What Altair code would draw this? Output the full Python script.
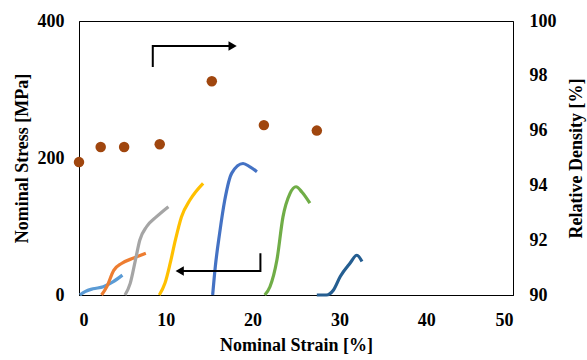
import altair as alt
import pandas as pd

# ---- data ----
series_names = ["s1", "s2", "s3", "s4", "s5", "s6", "s7"]
series_colors = ["#5B9BD5", "#ED7D31", "#A5A5A5", "#FFC000", "#4472C4", "#70AD47", "#255E91"]

s1_strain = [0.1, 0.7, 1.6, 2.8, 3.9, 5.0]
s1_stress = [0, 5, 9, 12, 19, 29]

s2_strain = [2.6, 3.2, 4.0, 4.9, 6.3, 7.7]
s2_stress = [0, 12, 36, 46, 54, 61]

s3_strain = [5.3, 5.9, 6.5, 7.0, 7.8, 8.9, 10.3]
s3_stress = [0, 17, 51, 80, 100, 114, 129]

s4_strain = [9.25, 9.9, 10.5, 11.1, 11.8, 12.8, 14.3]
s4_stress = [0, 17, 46, 80, 114, 139, 163]

s5_strain = [15.4, 15.7, 16.2, 16.8, 17.6, 18.9, 19.7, 20.5]
s5_stress = [0, 41, 90, 139, 178, 192, 187, 180]

s6_strain = [21.4, 22.0, 22.8, 23.5, 24.3, 25.0, 25.7, 26.6]
s6_stress = [0, 12, 51, 114, 148, 158, 150, 134]

s7_strain = [27.4, 28.5, 29.3, 30.1, 31.2, 32.0, 32.6]
s7_stress = [0, 0, 7, 27, 46, 58, 49]

density_strain = [0, 2.5, 5.2, 9.3, 15.3, 21.3, 27.4]
density_value = [94.85, 95.4, 95.4, 95.5, 97.8, 96.2, 96.0]

# annotation arrows (strain, stress)
arrow_names = ["right", "right", "right", "left", "left", "left"]
arrow_strain = [8.5, 8.5, 17.6, 20.9, 20.9, 11.8]
arrow_stress = [333, 363.5, 363.5, 61, 35, 35]
head_shapes = ["triangle-right", "triangle-left"]
head_strain = [17.7, 11.6]
head_stress = [363.5, 35]

strain_ticks = [0, 10, 20, 30, 40, 50]
stress_ticks = [0, 200, 400]
density_ticks = [90, 92, 94, 96, 98, 100]

# ---- tables ----
rows = []
all_strain = [s1_strain, s2_strain, s3_strain, s4_strain, s5_strain, s6_strain, s7_strain]
all_stress = [s1_stress, s2_stress, s3_stress, s4_stress, s5_stress, s6_stress, s7_stress]
for name, xs, ys in zip(series_names, all_strain, all_stress):
    for i, (x, y) in enumerate(zip(xs, ys)):
        rows.append({"series": name, "idx": i, "strain": x, "stress": y})
curves = pd.DataFrame(rows)
dens = pd.DataFrame({"strain": density_strain, "density": density_value})
arrows = pd.DataFrame({"arrow": arrow_names, "idx": list(range(len(arrow_names))),
                       "strain": arrow_strain, "stress": arrow_stress})
heads = pd.DataFrame({"shape": head_shapes, "strain": head_strain, "stress": head_stress})

FONT = "Liberation Serif"

x_enc = alt.X("strain:Q", scale=alt.Scale(domain=[0, 50], nice=False),
              axis=alt.Axis(values=strain_ticks, title="Nominal Strain [%]", ticks=False,
                            labelPadding=16, titlePadding=7, grid=False))
y_stress = alt.Y("stress:Q", scale=alt.Scale(domain=[0, 400], nice=False),
                 axis=alt.Axis(values=stress_ticks, title="Nominal Stress [MPa]", ticks=False,
                               labelPadding=15, titlePadding=6, grid=False))

lines = alt.Chart(curves).mark_line(strokeWidth=3.2, interpolate="monotone").encode(
    x=x_enc, y=y_stress,
    color=alt.Color("series:N", scale=alt.Scale(domain=series_names, range=series_colors), legend=None),
    order="idx:Q",
)
arrow_lines = alt.Chart(arrows).mark_line(strokeWidth=2, color="black").encode(
    x=x_enc, y=y_stress, detail="arrow:N", order="idx:Q")
arrow_heads = alt.Chart(heads).mark_point(filled=True, color="black", size=90, opacity=1).encode(
    x=x_enc, y=y_stress,
    shape=alt.Shape("shape:N", scale=alt.Scale(domain=head_shapes, range=head_shapes), legend=None))

left = alt.layer(lines, arrow_lines, arrow_heads)

dots = alt.Chart(dens).mark_circle(size=110, color="#A0460E", opacity=1).encode(
    x=x_enc,
    y=alt.Y("density:Q", scale=alt.Scale(domain=[90, 100], nice=False),
            axis=alt.Axis(orient="right", values=density_ticks, title="Relative Density [%]",
                          titleAngle=270, titleBaseline="bottom",
                          ticks=False, labelPadding=16, titlePadding=29, grid=False)),
)

chart = alt.layer(left, dots).resolve_scale(y="independent").properties(
    width=434, height=274,
    background="white",
    autosize=alt.AutoSizeParams(type="none"),
    padding={"left": 79, "top": 21, "right": 74, "bottom": 65},
).configure_view(stroke="black", strokeWidth=1).configure_axis(
    domainColor="black", domainWidth=1,
    labelFont=FONT, labelFontSize=18, labelFontWeight="bold", labelColor="black",
    titleFont=FONT, titleFontSize=18, titleFontWeight="bold", titleColor="black",
)

chart.save("out.html", embed_options={"renderer": "svg", "actions": False})
